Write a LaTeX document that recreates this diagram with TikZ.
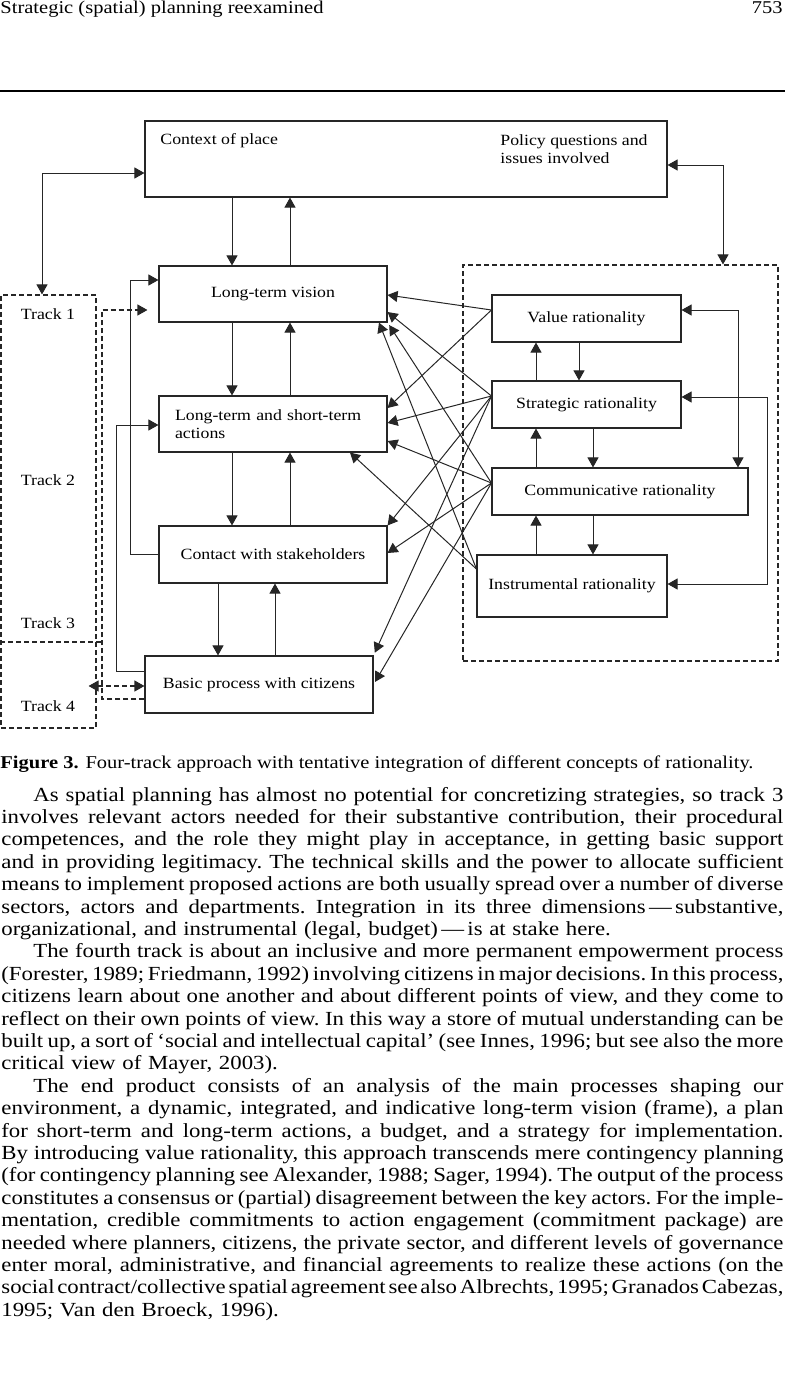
\documentclass[tikz,border=0pt]{standalone}
\usepackage{fontspec}
\setmainfont{Liberation Serif}[FakeStretch=1.14]
\usetikzlibrary{arrows.meta, calc}

\newcommand\dgfont{\fontsize{7.8}{9}\selectfont}
\newcommand\txtfont{\fontsize{10}{11.2}\selectfont\frenchspacing}
\newcommand\capfont{\fontsize{9}{11}\selectfont}
\newcommand\jl[1]{\makebox[391pt][s]{\spaceskip=0.25em plus 0.5em minus 0.15em\relax#1}\\}
\newcommand\ind{\hspace*{16pt}}

\begin{document}
\begin{tikzpicture}[x=0.5pt, y=-0.5pt]
  \tikzstyle{bx}=[draw=black!85, line width=0.55pt, inner sep=0pt,
    align=center, font=\dgfont]
  \tikzstyle{lb}=[inner sep=0pt, font=\dgfont]
  \tikzstyle{dsh}=[draw=black!85, line width=0.55pt,
    dash pattern=on 2.5pt off 1.5pt]
  \tikzstyle{ar}=[-{Triangle[length=5pt,width=5.5pt]}, line width=0.5pt, black!85]
  \tikzstyle{ar2}=[{Triangle[length=5pt,width=5.5pt]}-{Triangle[length=5pt,width=5.5pt]},
    line width=0.5pt, black!85]
  \tikzstyle{tx}=[inner sep=0pt, anchor=base west, text width=391pt,
    align=left, font=\txtfont]

  \useasboundingbox (0,0) rectangle (785,1386);

  % running head
  \node[inner sep=0pt, anchor=base west, font=\capfont] (head) at (0,14)
    {Strategic (spatial) planning reexamined};
  \node[inner sep=0pt, anchor=base east, font=\capfont] (folio) at (783,14) {753};
  \draw[line width=1.1pt] (0,91) -- (785,91);

  % boxes
  \node[bx, minimum width=261pt, minimum height=38pt] (ctx) at (406,159) {};
  \node[lb, anchor=base west] (place) at (160,145) {Context of place};
  \node[lb, anchor=base west, align=left] (policy) at (500,163)
    {Policy questions and\\issues involved};

  \node[bx, minimum width=114pt, minimum height=28pt] (ltv) at (273,294)
    {Long-term vision};
  \node[bx, minimum width=114pt, minimum height=28pt,
    text width=98pt, align=left] (lta) at (273,424)
    {Long-term and short-term\\actions};
  \node[bx, minimum width=114pt, minimum height=28.5pt] (cws) at (273,554.5)
    {Contact with stakeholders};
  \node[bx, minimum width=114pt, minimum height=28.5pt] (bpc) at (259,684.5)
    {Basic process with citizens};

  \node[bx, minimum width=94.5pt, minimum height=23.5pt] (val) at (586.5,318.5)
    {Value rationality};
  \node[bx, minimum width=94.5pt, minimum height=23.5pt] (str) at (586.5,404.5)
    {Strategic rationality};
  \node[bx, minimum width=128pt, minimum height=23.5pt] (com) at (620,491.5)
    {Communicative rationality};
  \node[bx, minimum width=95pt, minimum height=31pt] (ins) at (572,586)
    {Instrumental rationality};

  % dashed frames
  \node[dsh, inner sep=0pt, minimum width=157.5pt, minimum height=198pt]
    (ratframe) at (620.5,463) {};
  \node[dsh, inner sep=0pt, minimum width=47.5pt, minimum height=216.5pt]
    (tracks) at (48.5,511.5) {};
  \draw[dsh] (tracks.west |- 0,642) -- (102,642);

  \node[lb] (trk1) at (48,314) {Track 1};
  \node[lb] (trk2) at (48,480) {Track 2};
  \node[lb] (trk3) at (48,623) {Track 3};
  \node[lb] (trk4) at (48,706) {Track 4};

  % central column
  \draw[ar] (ctx.south -| 232,0) -- (ltv.north -| 232,0);
  \draw[ar] (ltv.north -| 290,0) -- (ctx.south -| 290,0);
  \draw[ar] (ltv.south -| 232,0) -- (lta.north -| 232,0);
  \draw[ar] (lta.north -| 290,0) -- (ltv.south -| 290,0);
  \draw[ar] (lta.south -| 232,0) -- (cws.north -| 232,0);
  \draw[ar] (cws.north -| 290,0) -- (lta.south -| 290,0);
  \draw[ar] (cws.south -| 218,0) -- (bpc.north -| 218,0);
  \draw[ar] (bpc.north -| 275,0) -- (cws.south -| 275,0);

  \draw[ar2] (ctx.west |- 0,173) -| (tracks.north -| 42,0);
  \draw[ar2] (ctx.east |- 0,165) -| (ratframe.north -| 723,0);

  \draw[ar] (cws.west) -| (130,280) -- (ltv.west |- 0,280);
  \draw[ar] (bpc.west |- 0,671) -| (116,425) -- (lta.west |- 0,425);
  \draw[ar, dsh, shorten >=5.5pt] (bpc.west |- 0,699) -| (102,310)
    -- (ltv.west |- 0,310);
  \draw[ar2, dsh, shorten <=-4pt] (tracks.east |- 0,686) -- (bpc.west |- 0,686);

  % rationalities
  \draw[ar] (str.north -| 536,0) -- (val.south -| 536,0);
  \draw[ar] (val.south -| 579,0) -- (str.north -| 579,0);
  \draw[ar] (com.north -| 536,0) -- (str.south -| 536,0);
  \draw[ar] (str.south -| 593,0) -- (com.north -| 593,0);
  \draw[ar] (ins.north -| 536,0) -- (com.south -| 536,0);
  \draw[ar] (com.south -| 593,0) -- (ins.north -| 593,0);
  \draw[ar2] (val.east |- 0,310) -| (com.north -| 738,0);
  \draw[ar2] (str.east |- 0,397) -| (767,584) -- (ins.east |- 0,584);

  % cross links
  \coordinate (vo) at (val.west |- 0,310);
  \coordinate (so) at (str.west |- 0,396);
  \coordinate (co) at (com.west |- 0,483);
  \coordinate (io) at (ins.west |- 0,569);

  \draw[ar] (vo) -- (ltv.east |- 0,295);
  \draw[ar] (vo) -- (lta.east |- 0,408);
  \draw[ar] (so) -- (ltv.east |- 0,312);
  \draw[ar] (so) -- (lta.east |- 0,423);
  \draw[ar] (so) -- (cws.north east);
  \draw[ar, shorten >=1.5pt] (so) -- (bpc.north east);
  \draw[ar, shorten >=1.5pt] (co) -- (ltv.south east);
  \draw[ar] (co) -- (lta.east |- 0,441);
  \draw[ar] (co) -- (cws.east |- 0,553);
  \draw[ar, shorten >=1.5pt] (co) -- (bpc.east);
  \draw[ar] (io) -- (ltv.south -| 379,0);
  \draw[ar] (io) -- (lta.south -| 350,0);

  % caption and text
  \node[inner sep=0pt, anchor=base west, font=\capfont] (cap) at (0,768)
    {\textbf{Figure 3.} Four-track approach with tentative integration of different concepts of rationality.};

  \node[tx] (par1) at (1,801) {%
    \jl{\ind As spatial planning has almost no potential for concretizing strategies, so track 3}
    \jl{involves relevant actors needed for their substantive contribution, their procedural}
    \jl{competences, and the role they might play in acceptance, in getting basic support}
    \jl{and in providing legitimacy. The technical skills and the power to allocate sufficient}
    \jl{means to implement proposed actions are both usually spread over a number of diverse}
    \jl{sectors, actors and departments. Integration in its three dimensions\,---\,substantive,}
    organizational, and instrumental (legal, budget)\,---\,is at stake here.};

  \node[tx] (par2) at (1,957.8) {%
    \jl{\ind The fourth track is about an inclusive and more permanent empowerment process}
    \jl{(Forester, 1989; Friedmann, 1992) involving citizens in major decisions. In this process,}
    \jl{citizens learn about one another and about different points of view, and they come to}
    \jl{reflect on their own points of view. In this way a store of mutual understanding can be}
    \jl{built up, a sort of `social and intellectual capital' (see Innes, 1996; but see also the more}
    critical view of Mayer, 2003).};

  \node[tx] (par3) at (1,1092.2) {%
    \jl{\ind The end product consists of an analysis of the main processes shaping our}
    \jl{environment, a dynamic, integrated, and indicative long-term vision (frame), a plan}
    \jl{for short-term and long-term actions, a budget, and a strategy for implementation.}
    \jl{By introducing value rationality, this approach transcends mere contingency planning}
    \jl{(for contingency planning see Alexander, 1988; Sager, 1994). The output of the process}
    \jl{constitutes a consensus or (partial) disagreement between the key actors. For the imple-}
    \jl{mentation, credible commitments to action engagement (commitment package) are}
    \jl{needed where planners, citizens, the private sector, and different levels of governance}
    \jl{enter moral, administrative, and financial agreements to realize these actions (on the}
    \jl{social contract/collective spatial agreement see also Albrechts, 1995; Granados Cabezas,}
    1995; Van den Broeck, 1996).};
\end{tikzpicture}
\end{document}
